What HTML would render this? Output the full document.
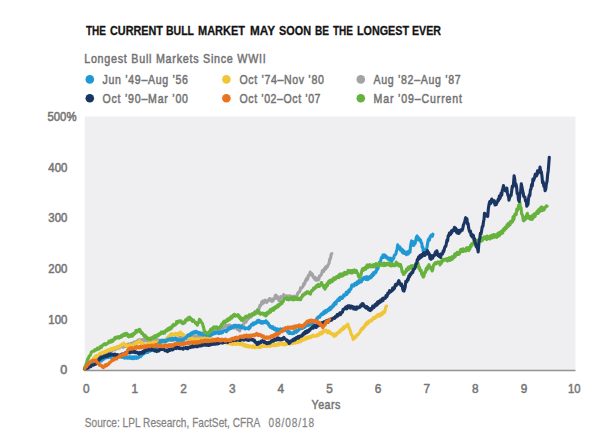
<!DOCTYPE html>
<html><head><meta charset="utf-8"><style>
html,body{margin:0;padding:0;background:#fff;}
svg{display:block;}
</style></head><body>
<svg width="600" height="443" viewBox="0 0 600 443">
<rect x="0" y="0" width="600" height="443" fill="#ffffff"/>
<rect x="84.8" y="116.5" width="490.7" height="254" fill="#efeef1"/>
<line x1="84.3" y1="370.5" x2="575.5" y2="370.5" stroke="#939393" stroke-width="1.6"/>
<path d="M84.8,368.7 L85.4,367.6 L86.0,366.6 L86.5,367.3 L87.1,365.4 L87.7,366.1 L88.3,365.0 L88.8,363.4 L89.4,363.9 L90.0,362.6 L90.6,363.2 L91.2,361.8 L91.8,362.5 L92.4,361.0 L92.9,361.8 L93.5,361.3 L94.1,359.6 L94.7,360.4 L95.3,359.4 L95.9,358.3 L96.5,358.6 L97.1,357.3 L97.6,357.8 L98.2,356.4 L98.8,356.0 L99.4,356.9 L100.0,355.7 L100.6,355.0 L101.2,354.7 L101.8,355.6 L102.4,354.2 L102.9,354.7 L103.5,353.9 L104.1,354.1 L104.7,353.2 L105.3,353.6 L105.9,352.0 L106.5,352.8 L107.1,351.7 L107.6,352.1 L108.2,352.4 L108.8,350.6 L109.4,351.1 L110.0,350.3 L110.6,350.2 L111.2,351.3 L111.8,350.0 L112.4,350.3 L112.9,349.0 L113.5,349.0 L114.1,349.9 L114.7,348.3 L115.3,349.6 L115.9,348.2 L116.5,347.3 L117.1,347.2 L117.6,347.1 L118.2,348.3 L118.8,347.4 L119.4,347.9 L120.0,346.6 L120.6,346.7 L121.2,346.1 L121.8,346.4 L122.4,347.0 L122.9,346.1 L123.5,347.1 L124.1,346.6 L124.7,345.0 L125.3,346.4 L125.9,346.3 L126.5,346.0 L127.1,344.4 L127.6,345.9 L128.2,345.5 L128.8,343.9 L129.4,344.4 L130.0,344.9 L130.6,345.2 L131.2,343.3 L131.8,343.2 L132.5,344.3 L133.1,343.2 L133.7,342.4 L134.3,343.9 L134.9,341.8 L135.5,342.1 L136.2,342.7 L136.8,341.3 L137.4,342.1 L138.0,340.2 L138.6,341.5 L139.2,339.8 L139.8,341.6 L140.4,339.8 L141.0,340.5 L141.6,339.9 L142.2,341.1 L142.8,339.6 L143.4,339.5 L144.0,340.8 L144.6,339.2 L145.2,340.8 L145.8,339.7 L146.4,339.5 L147.0,341.0 L147.6,340.8 L148.2,339.6 L148.8,341.0 L149.4,339.6 L150.0,341.3 L150.6,339.5 L151.2,340.1 L151.8,341.6 L152.4,341.1 L152.9,340.2 L153.5,341.2 L154.1,340.0 L154.7,339.8 L155.3,341.5 L155.9,340.4 L156.5,339.7 L157.1,341.7 L157.6,340.1 L158.2,339.9 L158.8,341.3 L159.4,340.3 L160.0,341.3 L160.6,340.9 L161.2,340.1 L161.8,341.2 L162.4,340.1 L163.0,341.8 L163.6,341.8 L164.2,340.4 L164.8,341.7 L165.4,340.3 L166.0,341.3 L166.6,340.6 L167.2,338.9 L167.8,340.4 L168.4,339.1 L169.0,339.8 L169.6,338.3 L170.2,340.3 L170.8,338.6 L171.4,340.5 L172.0,339.1 L172.6,340.7 L173.2,339.3 L173.8,339.8 L174.4,338.9 L175.0,339.4 L175.6,338.4 L176.2,338.3 L176.8,338.9 L177.4,338.2 L178.0,338.6 L178.6,339.0 L179.2,337.6 L179.7,337.8 L180.3,337.5 L180.9,338.9 L181.5,337.3 L182.1,338.9 L182.7,336.9 L183.3,337.0 L183.9,338.2 L184.5,337.3 L185.1,338.4 L185.7,337.2 L186.3,338.4 L186.9,338.3 L187.4,337.1 L188.0,338.0 L188.6,336.8 L189.2,338.5 L189.8,338.2 L190.4,336.5 L191.0,338.1 L191.6,337.1 L192.2,338.2 L192.8,337.0 L193.4,337.8 L194.0,336.6 L194.6,337.1 L195.3,336.2 L195.9,337.1 L196.5,336.9 L197.1,337.0 L197.7,335.5 L198.3,335.6 L198.9,335.2 L199.5,336.8 L200.1,336.6 L200.7,336.8 L201.3,335.1 L202.0,336.6 L202.6,336.5 L203.2,334.5 L203.8,336.2 L204.4,335.0 L205.0,335.7 L205.6,333.9 L206.2,335.4 L206.8,333.5 L207.4,334.2 L207.9,334.6 L208.5,332.8 L209.1,333.5 L209.7,333.4 L210.3,332.3 L210.9,332.2 L211.5,331.3 L212.1,332.8 L212.6,331.2 L213.2,330.9 L213.8,331.7 L214.4,330.6 L215.0,330.2 L215.6,330.6 L216.2,329.5 L216.8,330.5 L217.4,328.9 L217.9,329.7 L218.5,328.5 L219.1,328.2 L219.7,327.3 L220.3,328.7 L220.9,328.9 L221.5,327.1 L222.1,328.5 L222.6,326.4 L223.2,327.6 L223.8,327.1 L224.4,327.2 L225.0,327.2 L225.6,325.2 L226.1,326.5 L226.7,325.5 L227.2,326.7 L227.8,325.6 L228.4,327.1 L228.9,325.1 L229.5,325.5 L230.1,325.1 L230.7,325.6 L231.4,326.8 L232.0,327.1 L232.6,325.9 L233.2,326.9 L233.8,325.9 L234.4,328.1 L235.1,326.7 L235.7,327.8 L236.3,326.5 L236.9,327.0 L237.4,329.4 L238.0,329.5 L238.6,329.5 L239.1,330.3 L239.7,330.9 L240.3,329.0 L240.9,328.1 L241.5,328.0 L242.1,325.7 L242.6,325.2 L243.2,325.2 L243.8,323.2 L244.4,323.2 L245.0,320.8 L245.6,321.7 L246.2,321.9 L246.8,319.7 L247.3,319.8 L247.9,318.5 L248.5,318.7 L249.1,316.5 L249.7,316.5 L250.2,317.5 L250.8,315.7 L251.4,316.3 L252.0,315.7 L252.6,314.0 L253.3,313.9 L253.9,314.2 L254.5,312.4 L255.2,311.4 L255.8,311.6 L256.4,312.3 L257.1,311.4 L257.7,309.7 L258.3,310.1 L258.8,309.0 L259.4,307.4 L260.0,305.3 L260.5,305.7 L261.1,304.8 L261.7,302.2 L262.2,303.7 L262.8,301.2 L263.4,303.1 L263.9,300.8 L264.5,301.4 L265.1,300.2 L265.6,301.8 L266.1,300.8 L266.7,302.5 L267.3,300.8 L267.9,301.1 L268.4,300.4 L269.0,299.4 L269.6,298.5 L270.1,298.5 L270.6,300.3 L271.2,299.5 L271.8,301.5 L272.3,300.1 L272.9,300.9 L273.4,298.8 L274.0,299.1 L274.6,298.7 L275.1,296.1 L275.7,295.0 L276.3,295.8 L276.8,298.2 L277.4,296.4 L278.0,298.8 L278.5,298.3 L279.1,301.0 L279.7,298.1 L280.2,299.2 L280.8,296.6 L281.4,297.1 L281.9,297.1 L282.5,296.7 L283.1,296.3 L283.7,294.6 L284.2,296.0 L284.8,297.3 L285.4,295.9 L286.0,296.7 L286.6,295.8 L287.2,296.0 L287.7,296.0 L288.3,297.7 L288.9,297.3 L289.5,295.8 L290.1,298.1 L290.7,296.1 L291.3,296.6 L291.9,298.2 L292.5,297.4 L293.1,296.8 L293.7,296.7 L294.3,296.1 L294.9,298.1 L295.5,298.6 L296.1,296.6 L296.8,297.2 L297.4,294.1 L298.1,292.8 L298.7,292.1 L299.4,291.9 L300.0,291.0 L300.6,287.9 L301.2,288.5 L301.8,287.4 L302.4,287.2 L303.0,286.5 L303.6,283.8 L304.2,284.4 L304.8,283.3 L305.4,280.6 L306.0,281.0 L306.6,278.4 L307.2,279.7 L307.8,278.5 L308.4,275.4 L309.0,275.6 L309.6,274.7 L310.2,272.1 L310.8,273.4 L311.4,274.6 L311.9,273.7 L312.5,274.5 L313.0,277.0 L313.6,277.6 L314.2,276.8 L314.7,279.3 L315.3,277.5 L315.9,280.2 L316.5,278.5 L317.0,278.4 L317.6,279.4 L318.2,280.1 L318.8,279.2 L319.4,276.0 L319.9,276.2 L320.5,275.7 L321.1,274.5 L321.7,273.7 L322.4,270.6 L323.0,270.6 L323.7,271.3 L324.4,268.5 L325.0,269.5 L325.6,267.2 L326.2,268.4 L326.7,266.4 L327.3,267.1 L327.9,265.3 L328.5,264.3 L329.1,263.1 L329.8,259.0 L330.5,258.5 L331.1,254.6 L331.8,253.6" fill="none" stroke="#a3a3a5" stroke-width="3.1" stroke-linejoin="round" stroke-linecap="round"/>
<path d="M84.8,368.7 L85.4,367.6 L86.0,367.9 L86.5,366.4 L87.1,365.4 L87.7,365.7 L88.3,364.5 L88.8,364.5 L89.4,363.0 L90.0,363.0 L90.6,361.9 L91.2,360.7 L91.8,360.9 L92.4,359.6 L93.0,359.1 L93.7,357.9 L94.3,357.4 L94.9,358.4 L95.5,356.1 L96.1,356.1 L96.7,355.3 L97.3,356.3 L97.9,355.8 L98.4,355.5 L99.0,355.0 L99.6,353.5 L100.2,354.4 L100.8,353.2 L101.4,353.7 L102.0,352.3 L102.6,353.8 L103.2,352.0 L103.7,353.1 L104.3,351.8 L104.9,351.4 L105.5,352.6 L106.1,350.5 L106.7,351.7 L107.3,351.3 L107.8,351.3 L108.4,349.6 L109.0,350.5 L109.6,350.1 L110.2,350.1 L110.8,348.5 L111.3,349.9 L111.9,348.8 L112.5,349.1 L113.1,348.1 L113.7,349.3 L114.3,347.9 L114.9,348.3 L115.4,347.5 L116.0,348.3 L116.6,347.0 L117.2,347.8 L117.8,346.5 L118.4,347.7 L119.0,346.2 L119.6,346.8 L120.2,346.6 L120.7,345.1 L121.3,345.8 L121.9,344.1 L122.5,344.7 L123.1,344.4 L123.7,343.0 L124.3,344.8 L124.9,344.1 L125.5,345.7 L126.2,344.6 L126.8,345.3 L127.4,346.6 L128.0,345.6 L128.6,345.7 L129.2,346.3 L129.9,344.9 L130.5,344.9 L131.1,346.4 L131.7,346.0 L132.3,345.9 L132.9,344.9 L133.6,345.1 L134.2,343.8 L134.8,345.1 L135.4,344.3 L135.9,343.0 L136.5,342.5 L137.1,343.5 L137.6,342.9 L138.2,342.4 L138.7,341.5 L139.3,340.6 L139.9,341.5 L140.5,341.8 L141.2,343.7 L141.8,342.5 L142.4,344.8 L143.0,343.5 L143.7,345.8 L144.3,344.7 L144.9,346.4 L145.5,344.9 L146.2,346.2 L146.8,344.7 L147.4,345.5 L148.1,343.9 L148.7,344.1 L149.3,343.0 L150.0,344.3 L150.6,342.7 L151.2,344.2 L151.8,344.2 L152.4,342.4 L153.0,342.3 L153.6,343.5 L154.2,342.7 L154.8,342.0 L155.4,343.5 L156.0,342.1 L156.6,342.7 L157.2,342.7 L157.8,341.8 L158.4,342.8 L159.0,341.6 L159.6,342.9 L160.2,343.0 L160.8,343.0 L161.5,341.6 L162.1,342.8 L162.7,340.9 L163.3,341.9 L164.0,341.6 L164.6,341.4 L165.2,340.5 L165.8,339.3 L166.3,340.3 L166.9,338.2 L167.5,339.0 L168.1,336.9 L168.6,338.2 L169.2,336.2 L169.8,336.6 L170.3,334.6 L170.9,335.6 L171.5,333.7 L172.1,335.0 L172.7,333.8 L173.3,334.1 L173.9,334.1 L174.4,334.8 L175.0,335.1 L175.6,333.4 L176.2,335.1 L176.8,333.6 L177.4,333.6 L178.0,334.8 L178.7,333.0 L179.3,334.5 L179.9,332.6 L180.6,332.2 L181.2,334.0 L181.9,334.4 L182.5,334.0 L183.1,334.0 L183.7,335.9 L184.4,335.5 L185.0,336.8 L185.6,336.2 L186.2,335.8 L186.8,337.7 L187.4,336.3 L187.9,336.0 L188.5,336.4 L189.1,337.9 L189.7,337.1 L190.3,338.1 L190.9,337.3 L191.5,339.1 L192.1,338.3 L192.6,339.9 L193.2,338.6 L193.8,339.0 L194.4,340.6 L195.0,339.6 L195.6,339.0 L196.2,339.0 L196.8,338.9 L197.4,340.3 L198.0,338.9 L198.6,340.2 L199.2,340.4 L199.8,339.2 L200.4,340.1 L201.0,339.0 L201.6,340.4 L202.1,338.5 L202.7,338.6 L203.3,340.1 L203.9,338.3 L204.5,339.7 L205.1,339.4 L205.7,338.0 L206.3,339.5 L206.9,337.9 L207.5,338.0 L208.1,339.6 L208.7,337.8 L209.3,339.6 L209.9,337.9 L210.5,339.3 L211.1,338.7 L211.7,339.9 L212.3,338.8 L212.9,340.1 L213.5,339.1 L214.1,339.4 L214.6,341.1 L215.2,340.1 L215.8,341.5 L216.4,341.6 L217.0,340.3 L217.6,341.9 L218.2,340.1 L218.8,339.9 L219.4,341.2 L220.0,340.4 L220.6,340.2 L221.2,340.3 L221.8,341.3 L222.4,340.8 L223.0,342.1 L223.7,341.0 L224.3,342.2 L224.9,341.1 L225.5,342.5 L226.1,343.0 L226.7,341.4 L227.3,341.6 L227.9,343.5 L228.5,342.5 L229.1,343.9 L229.7,342.6 L230.3,343.5 L231.0,342.5 L231.6,343.7 L232.2,344.4 L232.8,342.8 L233.4,344.5 L234.0,342.7 L234.6,342.7 L235.2,344.2 L235.8,342.6 L236.4,344.3 L237.0,343.0 L237.6,343.8 L238.2,343.3 L238.8,343.9 L239.3,343.1 L239.9,344.6 L240.5,343.0 L241.1,344.6 L241.7,343.3 L242.3,345.0 L242.9,344.9 L243.5,344.2 L244.1,345.9 L244.7,344.5 L245.4,346.6 L246.0,345.1 L246.6,345.6 L247.2,345.3 L247.8,347.0 L248.4,345.6 L249.1,347.1 L249.7,345.8 L250.3,347.0 L250.9,346.8 L251.5,347.0 L252.1,346.1 L252.7,347.6 L253.3,345.9 L253.9,347.2 L254.5,346.2 L255.1,347.7 L255.7,346.3 L256.3,346.2 L256.8,347.1 L257.4,346.3 L258.0,346.0 L258.6,347.5 L259.1,347.4 L259.7,346.0 L260.3,347.4 L260.9,346.4 L261.4,347.1 L262.0,346.6 L262.6,345.9 L263.2,345.1 L263.8,346.3 L264.5,346.4 L265.1,345.1 L265.7,346.1 L266.3,345.0 L266.9,346.5 L267.5,345.0 L268.2,345.9 L268.8,346.3 L269.4,346.1 L270.0,344.9 L270.6,346.2 L271.2,345.7 L271.8,344.8 L272.4,345.3 L272.9,344.6 L273.5,345.6 L274.1,343.8 L274.7,345.7 L275.3,344.6 L275.9,344.4 L276.5,344.4 L277.1,345.4 L277.6,345.3 L278.2,344.5 L278.8,343.3 L279.4,344.9 L280.0,342.8 L280.6,343.4 L281.2,344.3 L281.8,343.9 L282.4,343.0 L282.9,344.7 L283.5,343.7 L284.1,344.7 L284.7,343.4 L285.3,344.8 L285.9,343.2 L286.5,344.3 L287.1,342.8 L287.6,342.6 L288.2,343.8 L288.8,342.2 L289.4,342.4 L290.0,343.9 L290.6,344.0 L291.2,342.5 L291.8,343.7 L292.4,341.9 L293.0,343.5 L293.6,342.9 L294.2,342.0 L294.8,343.0 L295.5,343.1 L296.1,341.2 L296.7,341.1 L297.3,342.3 L297.9,342.6 L298.5,340.6 L299.1,341.6 L299.7,340.3 L300.3,341.8 L300.9,341.2 L301.5,339.7 L302.1,340.5 L302.7,339.0 L303.3,338.9 L304.0,340.0 L304.6,339.2 L305.2,337.6 L305.8,337.7 L306.4,338.8 L307.0,337.5 L307.6,338.5 L308.2,336.8 L308.9,338.0 L309.5,336.9 L310.1,336.5 L310.7,337.6 L311.3,337.0 L311.9,336.0 L312.6,336.6 L313.2,335.1 L313.8,335.4 L314.4,336.3 L315.0,336.2 L315.7,336.3 L316.3,336.3 L316.9,334.8 L317.5,335.2 L318.1,334.3 L318.7,335.3 L319.4,333.1 L320.0,333.6 L320.6,334.2 L321.2,332.3 L321.7,333.7 L322.3,331.6 L322.9,332.9 L323.4,331.7 L324.0,330.6 L324.5,331.6 L325.1,330.6 L325.7,330.2 L326.2,331.1 L326.8,330.7 L327.4,332.8 L327.9,331.5 L328.5,331.0 L329.0,332.7 L329.6,331.6 L330.2,333.4 L330.7,332.9 L331.3,333.9 L331.9,333.6 L332.4,334.5 L333.0,335.1 L333.5,334.0 L334.1,336.3 L334.7,336.0 L335.3,334.1 L335.9,335.4 L336.5,334.9 L337.1,333.2 L337.6,332.6 L338.2,333.1 L338.8,331.9 L339.4,331.0 L340.0,332.2 L340.6,329.9 L341.2,330.3 L341.8,329.9 L342.4,328.3 L343.0,329.5 L343.6,326.9 L344.2,328.6 L344.8,326.7 L345.4,327.1 L346.0,325.7 L346.6,326.7 L347.2,326.1 L347.8,324.0 L348.4,326.0 L349.0,327.5 L349.6,329.3 L350.2,330.5 L350.8,332.8 L351.4,334.9 L352.0,335.2 L352.6,336.9 L353.2,339.4 L353.8,337.7 L354.4,337.7 L354.9,337.9 L355.5,336.4 L356.1,336.9 L356.7,335.2 L357.3,334.6 L357.9,334.8 L358.4,334.3 L359.0,333.1 L359.6,332.6 L360.2,332.1 L360.8,330.0 L361.4,329.0 L362.0,328.5 L362.6,329.3 L363.2,327.3 L363.8,327.8 L364.4,325.7 L365.0,326.4 L365.6,324.0 L366.2,323.1 L366.8,324.3 L367.4,322.0 L368.0,323.6 L368.6,322.7 L369.2,320.8 L369.8,321.4 L370.4,321.2 L371.0,320.0 L371.6,320.9 L372.2,319.1 L372.8,319.4 L373.4,317.6 L374.0,318.7 L374.6,317.9 L375.2,318.1 L375.8,316.4 L376.4,317.2 L377.0,315.7 L377.6,316.2 L378.2,314.4 L378.8,316.1 L379.4,315.4 L380.0,315.9 L380.6,313.8 L381.2,313.4 L381.8,314.8 L382.4,313.7 L383.0,311.9 L383.6,313.2 L384.2,312.6 L384.8,312.0 L385.4,308.5 L386.0,306.5 L386.6,306.2" fill="none" stroke="#f1c538" stroke-width="3.1" stroke-linejoin="round" stroke-linecap="round"/>
<path d="M84.8,368.7 L85.4,367.6 L86.0,367.4 L86.5,366.8 L87.1,366.6 L87.7,366.0 L88.3,365.9 L88.8,365.6 L89.4,364.8 L90.0,365.8 L90.6,364.2 L91.2,363.6 L91.9,364.4 L92.5,363.1 L93.1,362.9 L93.8,363.3 L94.4,362.0 L95.0,361.2 L95.6,362.3 L96.2,361.2 L96.8,362.0 L97.4,361.0 L98.0,360.8 L98.6,360.3 L99.2,360.6 L99.8,361.5 L100.4,360.4 L101.0,361.0 L101.6,360.9 L102.2,358.9 L102.8,359.8 L103.4,358.4 L104.0,359.0 L104.6,357.1 L105.2,358.1 L105.8,356.7 L106.4,357.7 L107.0,356.3 L107.6,356.5 L108.3,357.6 L108.9,357.4 L109.5,356.1 L110.1,357.2 L110.7,357.4 L111.3,356.3 L111.9,355.8 L112.5,355.5 L113.2,355.8 L113.8,356.5 L114.4,355.4 L115.0,356.0 L115.6,355.1 L116.2,356.6 L116.8,355.5 L117.4,356.5 L117.9,355.2 L118.5,356.3 L119.1,356.6 L119.7,355.8 L120.3,356.7 L120.9,355.6 L121.5,357.3 L122.1,356.1 L122.6,357.1 L123.2,357.2 L123.8,356.9 L124.4,358.1 L125.0,356.7 L125.6,357.6 L126.2,357.9 L126.8,357.9 L127.3,357.1 L127.9,358.2 L128.5,357.0 L129.1,357.9 L129.7,356.7 L130.3,358.4 L130.9,357.0 L131.4,357.8 L132.0,358.5 L132.6,356.9 L133.2,357.3 L133.8,358.6 L134.4,356.8 L135.0,358.1 L135.6,358.0 L136.1,356.8 L136.7,358.3 L137.3,357.3 L137.9,358.0 L138.5,357.6 L139.1,356.6 L139.7,356.8 L140.3,355.7 L140.9,356.3 L141.4,354.7 L142.0,355.0 L142.6,354.0 L143.2,354.2 L143.8,352.6 L144.4,353.2 L145.0,352.7 L145.6,351.4 L146.2,351.8 L146.8,352.6 L147.4,350.8 L147.9,352.4 L148.5,351.0 L149.1,351.4 L149.7,351.2 L150.3,351.1 L150.9,349.8 L151.5,350.2 L152.1,349.8 L152.6,348.6 L153.2,349.9 L153.8,348.3 L154.4,349.4 L155.0,348.6 L155.6,348.9 L156.2,346.6 L156.9,347.2 L157.5,345.0 L158.1,344.9 L158.8,343.3 L159.4,343.5 L160.0,341.3 L160.6,340.8 L161.2,340.6 L161.8,341.8 L162.4,340.6 L162.9,341.7 L163.5,340.4 L164.1,341.5 L164.7,341.5 L165.3,340.5 L165.9,341.6 L166.5,341.2 L167.1,339.9 L167.6,340.3 L168.2,339.2 L168.8,340.0 L169.4,339.1 L170.0,338.6 L170.6,338.8 L171.3,339.9 L171.9,338.9 L172.6,338.2 L173.2,339.2 L173.8,339.6 L174.5,338.5 L175.1,339.7 L175.7,338.2 L176.4,339.2 L177.0,340.3 L177.6,340.9 L178.3,339.9 L178.9,339.8 L179.6,339.7 L180.2,339.8 L180.8,341.1 L181.3,339.5 L181.9,340.7 L182.5,340.2 L183.1,339.9 L183.6,340.3 L184.2,338.6 L184.8,337.9 L185.4,338.5 L186.0,337.1 L186.5,337.4 L187.1,336.2 L187.7,335.2 L188.3,335.9 L188.9,334.6 L189.4,334.4 L190.0,335.6 L190.6,333.6 L191.2,334.9 L191.7,332.8 L192.3,334.1 L192.9,332.4 L193.5,331.9 L194.1,333.1 L194.6,332.1 L195.2,332.8 L195.8,331.3 L196.4,332.3 L197.0,331.8 L197.6,333.0 L198.2,332.7 L198.8,332.3 L199.4,334.3 L200.0,334.2 L200.6,332.9 L201.3,334.1 L201.9,333.7 L202.5,333.3 L203.1,335.1 L203.6,333.7 L204.2,334.5 L204.8,333.2 L205.4,333.7 L205.9,335.0 L206.5,335.3 L207.1,333.6 L207.7,333.8 L208.2,335.2 L208.8,335.5 L209.4,334.3 L210.0,335.9 L210.6,334.4 L211.2,335.2 L211.7,334.9 L212.3,334.8 L212.9,332.9 L213.4,333.9 L214.0,333.0 L214.6,333.6 L215.2,332.1 L215.8,333.3 L216.3,332.6 L216.9,332.6 L217.5,331.9 L218.1,332.2 L218.7,333.6 L219.3,332.2 L219.9,333.3 L220.5,331.7 L221.1,332.2 L221.7,333.0 L222.2,331.7 L222.8,332.3 L223.4,331.2 L224.0,330.6 L224.6,330.4 L225.2,330.5 L225.8,330.9 L226.4,331.7 L227.0,329.7 L227.6,329.3 L228.2,330.0 L228.8,327.9 L229.4,329.0 L230.0,327.5 L230.6,328.7 L231.2,326.9 L231.8,328.1 L232.4,326.5 L233.0,327.2 L233.6,327.3 L234.2,325.3 L234.8,326.3 L235.4,325.3 L236.0,326.6 L236.6,325.3 L237.2,326.9 L237.8,325.9 L238.4,326.6 L239.0,325.3 L239.6,327.3 L240.2,326.8 L240.8,327.5 L241.4,325.8 L242.0,327.4 L242.7,328.0 L243.3,327.9 L243.9,328.1 L244.5,327.5 L245.1,329.0 L245.7,328.0 L246.4,328.2 L247.0,328.2 L247.6,328.5 L248.2,327.7 L248.8,329.0 L249.4,326.6 L250.0,327.9 L250.6,325.8 L251.2,324.7 L251.8,325.0 L252.4,325.0 L253.0,323.1 L253.6,324.8 L254.2,322.9 L254.8,323.7 L255.4,323.5 L256.0,322.1 L256.6,323.0 L257.2,320.8 L257.8,322.1 L258.4,320.4 L259.0,320.3 L259.6,322.3 L260.2,321.8 L260.7,321.4 L261.3,323.2 L261.9,322.6 L262.5,321.6 L263.1,323.1 L263.6,322.0 L264.2,321.7 L264.8,321.4 L265.4,322.6 L265.9,320.8 L266.5,322.1 L267.1,321.9 L267.7,323.9 L268.3,323.2 L268.8,325.2 L269.4,325.0 L270.0,327.1 L270.6,326.4 L271.2,327.6 L271.8,326.7 L272.4,328.4 L272.9,326.8 L273.5,327.9 L274.1,329.3 L274.7,329.6 L275.3,328.1 L275.8,329.7 L276.4,330.5 L277.0,330.5 L277.6,328.9 L278.1,329.3 L278.7,330.7 L279.3,329.5 L279.9,330.6 L280.5,328.9 L281.1,330.5 L281.7,329.5 L282.3,330.3 L282.9,328.9 L283.5,330.5 L284.1,329.4 L284.7,330.5 L285.3,330.0 L285.9,330.1 L286.5,330.6 L287.1,330.7 L287.7,332.2 L288.3,331.0 L288.9,333.3 L289.5,331.6 L290.2,333.5 L290.9,333.5 L291.5,333.0 L292.2,333.9 L292.8,333.4 L293.4,332.3 L294.0,333.4 L294.5,331.8 L295.1,330.8 L295.7,331.9 L296.3,332.3 L296.9,330.6 L297.5,331.1 L298.1,330.7 L298.8,329.8 L299.4,328.0 L300.0,329.0 L300.6,327.6 L301.2,328.6 L301.9,327.0 L302.5,328.3 L303.1,326.8 L303.7,327.3 L304.3,327.5 L304.9,326.7 L305.5,325.3 L306.1,326.2 L306.7,325.2 L307.3,325.0 L307.9,324.4 L308.6,325.5 L309.2,323.5 L309.8,324.6 L310.4,324.2 L311.0,324.3 L311.6,323.6 L312.2,323.9 L312.8,321.9 L313.4,323.1 L314.0,321.2 L314.5,321.8 L315.1,320.9 L315.7,320.2 L316.3,319.5 L316.9,318.3 L317.4,318.8 L318.0,317.1 L318.6,316.5 L319.2,317.0 L319.8,317.2 L320.4,315.3 L321.0,314.6 L321.6,313.8 L322.2,314.7 L322.9,314.3 L323.5,312.0 L324.1,313.6 L324.7,311.2 L325.3,312.9 L325.9,310.5 L326.5,312.1 L327.1,311.4 L327.7,309.6 L328.3,310.5 L328.8,309.0 L329.4,308.1 L330.0,309.9 L330.6,307.1 L331.2,308.5 L331.8,307.2 L332.4,307.1 L333.0,304.8 L333.6,306.1 L334.2,303.3 L334.8,304.5 L335.4,302.0 L336.0,303.9 L336.6,301.0 L337.2,301.0 L337.8,299.5 L338.4,300.5 L339.0,298.3 L339.6,300.3 L340.2,297.3 L340.8,298.2 L341.4,297.0 L342.0,298.4 L342.6,298.0 L343.2,296.7 L343.8,294.8 L344.4,296.0 L345.0,294.5 L345.6,294.8 L346.2,292.4 L346.8,294.5 L347.4,291.7 L348.0,292.8 L348.7,290.3 L349.3,291.7 L349.9,289.2 L350.5,289.5 L351.1,288.4 L351.7,285.3 L352.3,284.9 L352.9,286.1 L353.5,284.9 L354.1,285.9 L354.7,283.7 L355.3,284.7 L355.9,283.0 L356.5,284.7 L357.1,281.9 L357.7,281.8 L358.3,283.3 L358.9,280.6 L359.5,282.5 L360.1,280.8 L360.7,280.6 L361.3,281.9 L361.9,278.9 L362.5,280.1 L363.1,278.7 L363.7,277.5 L364.3,278.0 L364.9,278.8 L365.5,277.0 L366.1,279.5 L366.7,276.7 L367.3,277.0 L367.9,279.6 L368.5,277.0 L369.1,277.1 L369.7,276.6 L370.3,278.1 L370.9,275.9 L371.5,277.2 L372.1,274.2 L372.7,275.9 L373.3,272.7 L373.9,274.5 L374.5,272.6 L375.1,271.7 L375.7,272.6 L376.3,271.2 L376.9,268.1 L377.5,269.3 L378.1,268.2 L378.7,265.6 L379.3,262.4 L379.9,261.9 L380.5,261.6 L381.1,258.8 L381.7,257.3 L382.3,257.6 L382.9,255.1 L383.5,257.5 L384.1,254.7 L384.7,255.3 L385.3,257.1 L386.0,256.0 L386.6,258.0 L387.3,257.2 L387.9,259.1 L388.5,258.0 L389.0,258.4 L389.6,260.0 L390.1,260.0 L390.7,258.2 L391.2,260.8 L391.8,261.3 L392.4,258.8 L393.1,259.2 L393.7,258.2 L394.4,255.2 L395.0,254.8 L395.7,254.3 L396.4,251.3 L397.0,249.7 L397.7,244.9 L398.3,247.2 L398.8,248.3 L399.4,246.8 L399.9,247.0 L400.5,250.3 L401.1,248.6 L401.6,249.1 L402.2,252.2 L402.8,250.1 L403.4,253.3 L404.0,251.0 L404.6,253.4 L405.2,252.6 L405.8,253.0 L406.4,254.7 L407.0,252.1 L407.6,253.7 L408.2,254.0 L408.8,251.1 L409.4,250.6 L410.0,252.3 L410.5,246.6 L411.1,243.1 L411.6,240.9 L412.2,243.6 L412.8,241.6 L413.4,245.4 L414.0,245.2 L414.6,242.9 L415.2,243.2 L415.9,239.5 L416.5,236.9 L417.1,236.0 L417.7,238.0 L418.2,237.3 L418.8,240.1 L419.4,238.8 L420.0,239.8 L420.5,240.0 L421.1,242.6 L421.7,243.0 L422.2,247.2 L422.8,247.0 L423.4,252.2 L424.0,252.4 L424.6,249.8 L425.2,253.3 L425.8,250.9 L426.4,249.7 L427.0,247.1 L427.6,243.4 L428.2,240.2 L428.8,238.8 L429.4,240.2 L430.0,237.0 L430.6,236.0 L431.2,235.2 L431.8,235.7 L432.3,236.3 L432.9,234.2" fill="none" stroke="#1f98d4" stroke-width="3.1" stroke-linejoin="round" stroke-linecap="round"/>
<path d="M84.3,369.3 L84.9,367.0 L85.5,366.5 L86.1,363.7 L86.7,362.8 L87.3,360.2 L87.9,358.6 L88.5,358.2 L89.1,356.1 L89.7,355.6 L90.2,355.4 L90.8,354.0 L91.4,352.0 L92.0,351.8 L92.6,351.3 L93.2,351.2 L93.8,350.6 L94.3,351.0 L94.9,349.7 L95.5,350.4 L96.1,349.4 L96.7,349.8 L97.3,348.2 L97.9,348.0 L98.4,349.1 L99.0,349.0 L99.6,348.5 L100.2,346.8 L100.8,346.3 L101.4,347.5 L102.0,346.0 L102.6,345.2 L103.2,345.3 L103.7,344.2 L104.3,344.0 L104.9,343.6 L105.5,344.7 L106.1,344.6 L106.7,343.8 L107.3,343.6 L107.8,342.9 L108.4,343.1 L109.0,341.1 L109.6,342.1 L110.2,341.1 L110.8,342.2 L111.4,340.2 L112.0,341.6 L112.6,341.2 L113.1,340.9 L113.7,339.2 L114.3,339.9 L114.9,337.8 L115.5,337.3 L116.1,338.4 L116.6,337.3 L117.2,336.9 L117.8,338.0 L118.4,336.9 L119.0,338.1 L119.5,336.7 L120.1,337.5 L120.7,337.4 L121.3,335.5 L121.9,336.9 L122.5,334.8 L123.1,335.9 L123.7,335.6 L124.2,333.8 L124.8,335.5 L125.4,333.6 L126.0,333.4 L126.6,333.4 L127.3,334.6 L128.0,336.3 L128.6,334.9 L129.1,336.8 L129.7,335.3 L130.2,336.4 L130.8,336.3 L131.4,334.6 L131.9,334.7 L132.5,336.1 L133.1,333.7 L133.6,334.9 L134.2,333.0 L134.8,333.7 L135.3,333.0 L135.9,330.6 L136.5,332.3 L137.0,330.3 L137.6,331.5 L138.2,331.2 L138.7,330.3 L139.3,329.4 L139.9,329.5 L140.4,332.0 L141.0,331.7 L141.6,333.5 L142.1,332.8 L142.7,333.5 L143.3,335.0 L143.8,335.7 L144.4,336.3 L145.0,335.1 L145.5,336.1 L146.1,337.9 L146.7,337.0 L147.2,337.6 L147.8,339.1 L148.3,339.0 L148.9,339.1 L149.5,338.5 L150.0,339.3 L150.6,339.8 L151.2,337.9 L151.7,337.6 L152.3,338.2 L152.8,337.0 L153.4,337.8 L154.0,337.5 L154.5,335.9 L155.1,337.6 L155.7,335.6 L156.2,336.6 L156.8,336.5 L157.3,334.7 L157.9,334.7 L158.5,335.7 L159.0,333.8 L159.6,334.3 L160.2,333.7 L160.7,334.0 L161.3,332.0 L161.8,333.3 L162.4,332.1 L163.0,331.8 L163.5,333.4 L164.1,331.8 L164.7,333.0 L165.2,330.7 L165.8,330.6 L166.3,329.9 L166.9,331.0 L167.5,330.5 L168.0,328.6 L168.6,329.8 L169.3,327.9 L170.0,329.3 L170.6,327.6 L171.2,328.6 L171.8,326.3 L172.3,327.2 L172.9,324.9 L173.5,324.4 L174.1,325.7 L174.7,325.0 L175.3,324.8 L176.0,324.1 L176.6,321.5 L177.2,323.0 L177.8,322.5 L178.5,321.0 L179.1,321.9 L179.7,320.8 L180.3,321.9 L180.9,320.8 L181.4,321.8 L182.0,323.0 L182.6,323.6 L183.2,322.6 L183.8,323.3 L184.4,321.6 L185.0,322.6 L185.6,319.8 L186.2,320.6 L186.8,319.2 L187.4,320.1 L188.0,317.9 L188.5,319.7 L189.1,319.2 L189.7,317.2 L190.3,318.7 L190.9,318.4 L191.5,320.3 L192.1,319.4 L192.6,321.4 L193.2,320.0 L193.8,320.5 L194.4,321.5 L195.0,322.2 L195.6,323.4 L196.2,322.6 L196.8,323.5 L197.4,325.2 L198.1,322.7 L198.7,322.6 L199.4,319.3 L200.0,321.4 L200.6,320.5 L201.3,322.4 L201.9,322.9 L202.5,323.6 L203.2,326.5 L203.8,328.2 L204.5,332.7 L205.1,332.8 L205.7,331.8 L206.4,333.5 L207.0,333.5 L207.6,333.0 L208.2,333.7 L208.8,332.8 L209.4,331.3 L210.0,332.0 L210.6,329.4 L211.2,329.0 L211.8,330.4 L212.4,328.6 L212.9,328.9 L213.5,327.0 L214.1,327.8 L214.7,327.2 L215.3,326.9 L215.8,327.0 L216.4,327.7 L217.0,326.9 L217.6,328.3 L218.1,327.8 L218.7,327.5 L219.3,328.2 L219.9,328.0 L220.5,326.1 L221.0,326.8 L221.6,324.1 L222.2,324.5 L222.8,323.7 L223.4,321.9 L223.9,322.7 L224.4,321.1 L225.0,322.7 L225.6,321.1 L226.1,320.8 L226.7,321.3 L227.2,319.4 L227.8,320.8 L228.4,318.8 L228.9,320.1 L229.5,318.1 L230.1,319.3 L230.7,317.1 L231.4,316.3 L232.0,318.0 L232.6,316.3 L233.2,315.2 L233.9,316.1 L234.5,314.3 L235.1,316.0 L235.7,316.1 L236.2,315.9 L236.8,315.2 L237.4,315.2 L237.9,314.7 L238.5,316.8 L239.1,315.7 L239.6,318.1 L240.2,318.9 L240.8,317.4 L241.3,320.2 L241.9,319.1 L242.5,320.5 L243.1,318.7 L243.8,319.1 L244.4,317.9 L245.0,317.5 L245.6,316.4 L246.3,317.4 L246.9,316.2 L247.5,316.7 L248.1,316.9 L248.8,315.6 L249.4,314.7 L250.0,315.3 L250.7,316.0 L251.3,315.7 L251.9,313.9 L252.6,314.7 L253.2,315.0 L253.8,313.3 L254.3,314.4 L254.9,312.3 L255.4,313.9 L256.0,313.3 L256.6,312.9 L257.1,311.8 L257.7,310.0 L258.3,312.8 L258.8,311.0 L259.4,313.7 L259.9,312.7 L260.5,314.3 L261.1,313.2 L261.6,313.2 L262.2,313.3 L262.8,313.1 L263.3,313.8 L263.9,315.0 L264.5,313.9 L265.0,313.5 L265.6,316.0 L266.2,315.6 L266.7,314.8 L267.3,312.4 L267.9,313.9 L268.4,311.8 L269.0,311.7 L269.5,312.6 L270.1,309.9 L270.7,312.0 L271.2,309.3 L271.8,310.7 L272.4,308.6 L272.9,309.9 L273.5,310.2 L274.0,307.6 L274.6,308.9 L275.2,308.6 L275.7,306.7 L276.3,307.8 L276.9,306.0 L277.4,305.3 L278.0,306.9 L278.5,304.7 L279.1,305.7 L279.7,304.5 L280.3,304.7 L280.9,302.8 L281.5,301.9 L282.1,303.3 L282.6,301.1 L283.2,301.6 L283.8,299.4 L284.4,299.1 L285.0,298.3 L285.6,298.6 L286.1,298.4 L286.7,297.7 L287.2,299.5 L287.8,298.4 L288.4,298.4 L288.9,299.8 L289.5,298.4 L290.1,299.2 L290.7,299.4 L291.3,297.7 L291.9,298.8 L292.5,297.2 L293.1,299.8 L293.7,297.4 L294.3,299.7 L294.9,297.9 L295.5,299.1 L296.1,297.5 L296.8,299.5 L297.4,299.4 L298.1,298.4 L298.7,299.7 L299.4,298.3 L300.0,298.8 L300.6,299.7 L301.3,297.4 L301.9,297.3 L302.5,295.0 L303.1,295.7 L303.8,294.0 L304.4,294.6 L305.0,293.0 L305.6,293.9 L306.3,293.6 L306.9,291.7 L307.5,291.8 L308.1,291.9 L308.7,293.1 L309.3,292.6 L309.9,294.0 L310.5,294.1 L311.1,291.9 L311.7,290.6 L312.3,290.0 L312.9,290.4 L313.6,288.0 L314.2,288.9 L314.8,288.7 L315.4,286.9 L316.0,287.5 L316.6,285.5 L317.2,285.1 L317.8,286.7 L318.4,284.4 L319.0,286.5 L319.6,286.2 L320.2,285.4 L320.8,284.7 L321.4,282.5 L322.0,283.8 L322.6,285.3 L323.2,285.2 L323.8,287.5 L324.4,285.7 L325.0,289.3 L325.6,285.8 L326.2,287.0 L326.8,283.7 L327.4,285.7 L328.0,282.6 L328.6,281.5 L329.2,280.9 L329.8,282.9 L330.4,280.3 L331.0,282.0 L331.6,279.8 L332.2,281.6 L332.8,278.8 L333.4,280.4 L334.0,277.9 L334.7,279.6 L335.4,277.5 L336.0,278.8 L336.6,276.7 L337.2,276.9 L337.8,277.4 L338.4,275.6 L339.0,277.6 L339.6,274.3 L340.2,274.6 L340.8,274.0 L341.4,276.2 L342.0,274.1 L342.6,275.0 L343.2,275.5 L343.8,272.9 L344.5,272.4 L345.1,274.4 L345.7,272.5 L346.3,273.9 L346.9,274.0 L347.5,272.8 L348.1,270.4 L348.7,272.4 L349.3,271.1 L349.9,272.6 L350.5,270.5 L351.1,273.0 L351.7,270.8 L352.3,273.0 L352.9,270.3 L353.5,272.1 L354.1,270.6 L354.7,270.0 L355.3,272.5 L355.9,272.5 L356.5,270.7 L357.1,272.3 L357.8,273.3 L358.5,276.5 L359.1,275.7 L359.8,278.1 L360.5,275.3 L361.1,274.7 L361.8,270.8 L362.5,268.8 L363.1,270.6 L363.7,268.3 L364.3,268.8 L364.9,267.5 L365.5,269.3 L366.1,268.7 L366.7,265.7 L367.3,264.9 L367.9,267.5 L368.5,265.3 L369.1,265.0 L369.7,264.7 L370.3,266.8 L370.9,265.3 L371.5,265.7 L372.1,266.8 L372.7,265.1 L373.3,266.7 L373.9,264.5 L374.4,265.2 L375.0,266.8 L375.6,265.5 L376.1,263.7 L376.7,265.5 L377.2,264.0 L377.8,265.2 L378.4,264.2 L378.9,265.9 L379.5,263.1 L380.1,263.7 L380.6,264.9 L381.2,265.3 L381.7,263.5 L382.3,264.8 L382.9,264.7 L383.5,265.5 L384.1,263.1 L384.7,265.5 L385.4,265.5 L386.0,263.6 L386.6,265.0 L387.2,263.3 L387.8,264.3 L388.4,263.3 L389.0,265.0 L389.6,262.9 L390.2,265.7 L390.8,263.8 L391.4,265.9 L392.0,263.3 L392.6,265.7 L393.2,264.3 L393.8,265.3 L394.4,265.8 L395.0,265.7 L395.6,264.5 L396.2,262.1 L396.8,264.6 L397.4,263.3 L398.0,264.6 L398.6,265.9 L399.2,264.1 L399.8,266.1 L400.4,264.5 L401.0,266.2 L401.6,268.7 L402.2,272.0 L402.8,271.9 L403.4,274.5 L404.0,274.3 L404.6,272.2 L405.2,272.7 L405.8,271.8 L406.4,269.4 L407.0,270.8 L407.6,268.9 L408.2,267.4 L408.8,269.3 L409.4,266.9 L410.0,268.3 L410.6,267.7 L411.1,265.8 L411.7,268.1 L412.3,265.7 L412.9,266.1 L413.4,267.2 L414.0,265.9 L414.6,265.6 L415.2,266.8 L415.9,263.9 L416.5,264.5 L417.1,263.3 L417.7,262.7 L418.2,263.8 L418.8,268.2 L419.4,267.1 L420.0,270.4 L420.5,270.9 L421.1,270.2 L421.7,274.3 L422.2,273.5 L422.8,276.3 L423.4,277.1 L424.0,275.8 L424.7,272.2 L425.3,272.6 L426.0,269.2 L426.6,268.0 L427.2,269.7 L427.8,266.2 L428.4,266.2 L429.0,264.6 L429.6,267.6 L430.2,266.7 L430.9,268.8 L431.5,267.6 L432.1,271.0 L432.7,269.8 L433.4,265.7 L434.0,264.3 L434.7,263.3 L435.3,262.7 L435.9,264.0 L436.5,263.6 L437.1,262.4 L437.6,262.5 L438.2,261.9 L438.8,262.9 L439.4,262.2 L440.0,264.9 L440.6,261.7 L441.3,263.4 L441.9,260.3 L442.6,259.5 L443.2,261.1 L443.8,259.4 L444.4,259.9 L445.1,260.1 L445.7,259.0 L446.3,258.8 L446.9,260.3 L447.5,261.1 L448.1,258.2 L448.8,258.2 L449.4,257.6 L450.0,260.4 L450.6,258.0 L451.2,259.7 L451.8,256.9 L452.4,259.2 L453.0,256.5 L453.5,257.6 L454.1,257.6 L454.7,254.1 L455.3,256.5 L455.9,253.5 L456.5,254.9 L457.1,252.4 L457.7,252.7 L458.3,254.5 L458.9,253.3 L459.4,254.0 L460.0,250.9 L460.6,249.7 L461.2,251.8 L461.8,249.3 L462.4,251.5 L463.0,248.7 L463.5,251.5 L464.1,250.6 L464.7,250.0 L465.3,250.5 L465.8,251.0 L466.4,247.7 L467.0,249.8 L467.6,247.7 L468.1,247.7 L468.7,250.8 L469.3,247.6 L469.9,249.0 L470.5,245.4 L471.1,246.6 L471.7,243.9 L472.3,244.8 L473.0,243.0 L473.6,242.1 L474.2,244.0 L474.8,242.3 L475.4,244.3 L476.0,241.0 L476.6,240.4 L477.2,240.2 L477.8,243.1 L478.4,241.7 L479.0,242.0 L479.6,240.3 L480.2,239.1 L480.9,241.2 L481.5,237.8 L482.1,240.8 L482.7,238.1 L483.3,239.4 L483.9,237.1 L484.5,238.4 L485.1,237.0 L485.7,238.9 L486.3,236.6 L486.9,239.6 L487.5,236.0 L488.1,238.5 L488.8,237.0 L489.4,237.9 L490.0,239.0 L490.6,235.9 L491.2,237.5 L491.8,235.4 L492.4,237.9 L493.0,235.7 L493.6,234.5 L494.2,237.3 L494.8,236.9 L495.4,234.9 L496.0,237.1 L496.7,237.4 L497.3,234.3 L497.9,233.4 L498.5,236.2 L499.1,232.7 L499.7,235.3 L500.3,233.4 L500.9,231.7 L501.5,233.6 L502.1,230.8 L502.7,233.1 L503.3,229.4 L503.9,228.6 L504.6,230.2 L505.2,227.3 L505.8,227.1 L506.4,228.3 L507.0,224.7 L507.6,226.7 L508.2,223.5 L508.8,225.9 L509.4,222.9 L510.1,224.6 L510.7,221.3 L511.3,222.2 L511.9,222.2 L512.5,221.7 L513.1,216.8 L513.8,219.7 L514.4,216.1 L515.0,214.0 L515.6,214.9 L516.2,214.5 L516.8,209.1 L517.5,210.3 L518.1,207.8 L518.7,205.2 L519.3,206.0 L519.9,202.2 L520.5,208.8 L521.0,207.4 L521.6,213.6 L522.2,214.6 L522.7,216.3 L523.3,220.6 L523.9,220.8 L524.5,217.5 L525.1,219.6 L525.6,216.9 L526.2,218.3 L526.8,214.5 L527.4,213.4 L528.0,216.8 L528.5,218.3 L529.1,218.2 L529.7,216.5 L530.3,219.2 L530.8,216.3 L531.4,217.2 L532.0,219.4 L532.6,215.5 L533.2,218.3 L533.8,214.2 L534.5,213.8 L535.1,216.4 L535.7,214.1 L536.3,212.8 L536.9,211.7 L537.5,210.9 L538.1,213.5 L538.7,209.5 L539.3,212.1 L539.9,208.4 L540.5,208.2 L541.1,207.2 L541.7,210.7 L542.2,207.1 L542.8,210.4 L543.4,209.9 L544.0,210.0 L544.6,208.5 L545.2,207.3 L545.8,207.1 L546.4,205.8 L547.0,206.3" fill="none" stroke="#66b23c" stroke-width="3.1" stroke-linejoin="round" stroke-linecap="round"/>
<path d="M84.8,368.7 L85.4,368.7 L86.1,367.8 L86.7,368.6 L87.3,367.1 L87.9,368.1 L88.5,368.0 L89.1,366.3 L89.6,366.9 L90.2,365.7 L90.8,366.7 L91.4,365.5 L92.0,365.1 L92.6,365.2 L93.2,365.3 L93.8,364.9 L94.3,364.7 L94.9,364.5 L95.5,362.8 L96.1,363.8 L96.7,361.7 L97.3,361.5 L97.9,360.7 L98.4,360.8 L99.0,358.9 L99.6,358.2 L100.2,359.0 L100.8,357.1 L101.4,358.0 L102.0,357.7 L102.6,356.9 L103.2,357.5 L103.7,357.0 L104.3,355.9 L104.9,356.8 L105.5,356.0 L106.1,356.5 L106.7,355.0 L107.3,356.3 L107.8,355.1 L108.4,355.6 L109.0,354.2 L109.6,355.5 L110.2,355.2 L110.8,353.8 L111.4,355.0 L112.0,354.5 L112.6,354.9 L113.1,354.2 L113.7,355.2 L114.3,354.9 L114.9,354.1 L115.5,355.4 L116.1,355.3 L116.7,354.7 L117.2,355.9 L117.8,354.9 L118.4,355.6 L119.0,355.1 L119.6,356.4 L120.2,356.1 L120.8,354.8 L121.4,355.8 L121.9,354.1 L122.5,355.1 L123.1,354.1 L123.7,354.9 L124.3,354.4 L124.9,353.0 L125.5,353.8 L126.2,352.6 L126.8,353.0 L127.4,351.6 L128.0,352.0 L128.6,352.7 L129.2,351.4 L129.9,352.8 L130.5,351.0 L131.1,351.3 L131.7,352.3 L132.4,351.0 L133.0,352.2 L133.6,351.6 L134.2,352.4 L134.7,351.4 L135.3,352.7 L135.9,352.8 L136.4,352.1 L137.0,352.4 L137.6,352.4 L138.2,353.4 L138.7,354.1 L139.3,353.2 L139.9,352.5 L140.4,353.4 L141.0,352.6 L141.6,353.1 L142.1,353.4 L142.7,351.5 L143.3,351.2 L143.8,352.7 L144.4,350.6 L145.0,351.4 L145.5,350.1 L146.1,350.7 L146.7,349.4 L147.2,350.2 L147.8,349.0 L148.3,350.1 L148.9,348.6 L149.5,349.9 L150.0,349.9 L150.6,348.7 L151.2,348.8 L151.8,350.1 L152.4,349.2 L153.0,349.6 L153.6,349.9 L154.3,350.9 L154.9,350.1 L155.5,349.9 L156.1,351.1 L156.7,351.6 L157.3,350.4 L157.9,351.1 L158.5,349.9 L159.0,350.9 L159.6,349.0 L160.2,348.6 L160.8,349.5 L161.3,348.0 L161.9,348.1 L162.5,349.4 L163.1,348.6 L163.8,348.9 L164.4,349.6 L165.0,350.8 L165.6,350.8 L166.3,350.2 L166.9,350.0 L167.5,351.7 L168.1,351.1 L168.7,349.5 L169.4,350.3 L170.0,350.4 L170.6,349.1 L171.2,349.8 L171.9,349.0 L172.5,349.8 L173.1,349.5 L173.7,348.1 L174.3,348.7 L174.9,347.6 L175.6,348.4 L176.2,348.6 L176.8,346.8 L177.4,347.9 L178.0,347.1 L178.6,348.4 L179.3,347.7 L179.9,348.7 L180.5,348.1 L181.2,348.4 L181.8,348.3 L182.4,348.3 L183.1,349.2 L183.7,347.9 L184.3,348.1 L184.9,347.7 L185.5,348.0 L186.1,348.5 L186.7,347.3 L187.3,347.3 L188.0,348.7 L188.6,347.4 L189.2,347.1 L189.8,347.1 L190.4,347.5 L191.0,346.6 L191.6,347.2 L192.2,345.9 L192.8,347.0 L193.4,345.2 L194.0,346.8 L194.6,345.6 L195.2,345.7 L195.9,345.6 L196.5,346.7 L197.1,345.5 L197.7,346.7 L198.3,345.3 L198.9,346.0 L199.5,344.8 L200.1,344.7 L200.7,346.0 L201.3,344.4 L201.9,345.6 L202.5,344.2 L203.1,345.1 L203.8,345.2 L204.4,345.0 L205.0,344.7 L205.6,343.6 L206.2,345.3 L206.8,344.1 L207.4,345.0 L208.0,344.0 L208.6,345.5 L209.2,344.0 L209.8,345.1 L210.4,343.6 L211.0,344.6 L211.7,343.5 L212.3,344.4 L212.9,342.8 L213.5,342.8 L214.1,344.1 L214.7,344.2 L215.3,344.1 L215.9,342.5 L216.5,342.7 L217.1,344.0 L217.8,342.2 L218.4,342.1 L219.0,343.6 L219.6,341.6 L220.2,342.5 L220.8,342.7 L221.4,342.9 L222.0,341.2 L222.7,343.1 L223.3,341.9 L223.9,342.4 L224.5,341.5 L225.1,342.4 L225.7,341.6 L226.3,340.9 L226.9,340.7 L227.6,342.5 L228.2,340.5 L228.8,340.6 L229.4,341.4 L230.0,341.4 L230.6,339.6 L231.2,341.1 L231.9,339.2 L232.5,340.2 L233.1,340.2 L233.7,340.6 L234.3,339.0 L234.9,340.2 L235.6,338.8 L236.2,340.5 L236.8,339.6 L237.4,339.0 L238.0,339.2 L238.6,340.2 L239.2,340.4 L239.8,338.9 L240.5,340.4 L241.1,338.8 L241.7,339.0 L242.3,338.9 L242.9,339.1 L243.5,340.1 L244.1,338.9 L244.7,339.9 L245.4,339.3 L246.0,339.1 L246.6,338.8 L247.2,340.2 L247.8,338.6 L248.4,340.4 L249.1,340.2 L249.7,340.0 L250.3,338.3 L250.9,339.7 L251.5,338.9 L252.1,340.1 L252.6,340.3 L253.2,339.7 L253.8,340.8 L254.4,340.1 L254.9,342.0 L255.5,342.2 L256.0,343.0 L256.6,342.4 L257.1,344.4 L257.7,342.6 L258.3,344.0 L258.9,342.2 L259.5,343.1 L260.1,342.0 L260.7,342.8 L261.3,341.2 L261.9,341.4 L262.5,340.6 L263.1,342.0 L263.7,341.4 L264.3,342.5 L264.9,341.7 L265.5,342.9 L266.1,343.4 L266.7,342.6 L267.3,343.7 L267.9,342.7 L268.5,342.3 L269.1,343.3 L269.7,343.1 L270.3,342.7 L270.9,341.5 L271.5,340.7 L272.1,341.4 L272.7,341.3 L273.3,339.8 L273.9,340.9 L274.5,339.0 L275.1,340.1 L275.6,339.0 L276.2,340.1 L276.8,338.5 L277.4,337.8 L278.0,339.7 L278.7,338.2 L279.4,339.6 L280.0,338.6 L280.6,338.9 L281.1,339.9 L281.7,338.8 L282.2,339.3 L282.8,338.2 L283.4,339.2 L283.9,337.4 L284.5,338.8 L285.1,338.9 L285.6,339.4 L286.2,339.9 L286.8,340.7 L287.3,340.2 L287.9,341.8 L288.4,341.2 L289.0,343.4 L289.6,341.6 L290.1,342.9 L290.7,340.9 L291.2,340.8 L291.8,340.6 L292.4,341.0 L292.9,339.5 L293.5,340.5 L294.1,340.0 L294.6,338.6 L295.2,339.8 L295.8,338.9 L296.3,337.5 L296.9,338.3 L297.4,338.0 L298.0,336.5 L298.6,338.1 L299.1,336.4 L299.7,336.4 L300.2,336.7 L300.8,335.9 L301.4,336.2 L301.9,335.1 L302.5,335.6 L303.1,333.5 L303.6,334.4 L304.2,332.5 L304.8,333.8 L305.3,331.6 L305.9,333.1 L306.4,332.4 L307.0,330.9 L307.6,332.3 L308.1,330.5 L308.7,331.5 L309.3,329.6 L309.9,330.3 L310.5,328.9 L311.0,328.0 L311.6,328.4 L312.2,327.0 L312.7,326.7 L313.3,328.1 L313.9,325.8 L314.4,325.6 L315.0,326.1 L315.5,325.7 L316.1,327.5 L316.7,325.2 L317.2,326.2 L317.8,326.0 L318.4,324.4 L318.9,325.6 L319.5,324.9 L320.0,323.9 L320.6,324.7 L321.2,323.4 L321.7,324.6 L322.3,322.6 L322.9,323.9 L323.4,323.7 L324.0,321.8 L324.5,322.8 L325.1,323.3 L325.7,323.1 L326.2,320.7 L326.8,322.5 L327.4,322.5 L327.9,322.3 L328.5,320.0 L329.0,321.4 L329.6,319.7 L330.2,319.3 L330.7,320.5 L331.3,318.9 L331.9,320.0 L332.4,318.7 L333.0,318.3 L333.5,317.9 L334.1,317.6 L334.7,318.3 L335.3,316.5 L335.9,317.0 L336.5,316.9 L337.1,314.6 L337.6,316.0 L338.2,314.7 L338.8,313.9 L339.4,314.9 L340.0,312.8 L340.6,314.6 L341.3,313.0 L341.9,312.1 L342.5,312.1 L343.1,309.4 L343.8,309.0 L344.4,309.1 L345.0,307.9 L345.6,307.2 L346.2,306.9 L346.8,308.8 L347.4,308.2 L348.0,305.9 L348.7,307.2 L349.3,305.8 L349.9,306.0 L350.5,308.2 L351.1,307.8 L351.7,306.1 L352.3,307.8 L352.9,306.6 L353.5,308.8 L354.1,308.3 L354.7,307.2 L355.3,309.3 L355.9,308.8 L356.5,309.1 L357.1,306.9 L357.7,308.1 L358.3,307.1 L358.9,307.6 L359.5,307.2 L360.1,307.2 L360.7,305.1 L361.3,306.0 L361.9,303.9 L362.5,305.1 L363.1,303.6 L363.7,306.0 L364.3,305.5 L364.9,307.0 L365.5,307.6 L366.1,308.1 L366.7,306.5 L367.3,308.5 L367.9,307.4 L368.5,309.6 L369.1,308.6 L369.7,310.4 L370.3,310.6 L370.9,308.6 L371.5,309.6 L372.1,308.9 L372.7,306.1 L373.3,307.4 L373.9,307.5 L374.5,306.3 L375.1,304.6 L375.7,305.9 L376.3,303.7 L376.9,305.1 L377.5,302.0 L378.1,304.0 L378.7,301.4 L379.3,302.8 L379.9,302.4 L380.5,300.1 L381.1,301.7 L381.8,300.6 L382.4,298.6 L383.0,300.6 L383.6,298.0 L384.2,298.1 L384.8,298.5 L385.4,298.1 L386.0,295.7 L386.6,296.9 L387.2,296.0 L387.8,293.0 L388.4,293.7 L389.0,292.8 L389.6,290.6 L390.2,291.1 L390.8,291.8 L391.4,291.0 L392.0,290.8 L392.6,288.2 L393.2,289.7 L393.8,287.7 L394.4,288.3 L395.0,285.8 L395.6,284.4 L396.2,285.7 L396.8,284.0 L397.5,284.2 L398.1,282.1 L398.8,280.6 L399.5,282.6 L400.2,283.8 L400.9,285.5 L401.5,284.0 L402.2,285.9 L402.8,289.4 L403.4,290.9 L404.0,291.1 L404.6,289.1 L405.2,287.0 L405.8,281.4 L406.4,282.0 L407.0,281.7 L407.6,279.0 L408.2,279.7 L408.8,276.0 L409.4,276.9 L410.0,274.1 L410.6,274.9 L411.2,274.0 L411.8,272.1 L412.4,272.8 L413.0,271.5 L413.6,269.1 L414.2,269.1 L414.8,268.6 L415.4,266.8 L416.0,263.7 L416.7,263.4 L417.3,259.6 L417.9,260.1 L418.5,257.0 L419.2,258.9 L419.8,255.5 L420.5,255.4 L421.1,257.3 L421.7,254.7 L422.3,256.3 L423.0,255.5 L423.6,252.9 L424.2,255.3 L424.8,255.4 L425.5,252.7 L426.1,254.1 L426.8,253.4 L427.4,250.5 L428.0,253.9 L428.7,252.6 L429.3,253.9 L430.0,258.6 L430.6,256.6 L431.2,259.3 L431.8,255.5 L432.5,258.2 L433.1,257.0 L433.7,256.0 L434.3,255.7 L435.0,253.3 L435.6,251.8 L436.3,254.3 L436.9,250.9 L437.5,254.1 L438.1,255.7 L438.8,254.2 L439.4,256.6 L440.0,256.1 L440.6,257.5 L441.3,253.9 L441.9,254.4 L442.6,254.0 L443.2,250.9 L443.8,251.4 L444.5,248.3 L445.1,246.6 L445.8,246.5 L446.4,243.3 L447.0,240.1 L447.6,240.9 L448.2,235.7 L448.8,235.9 L449.4,233.0 L450.1,234.5 L450.7,234.2 L451.3,231.0 L451.9,232.5 L452.6,230.1 L453.2,230.3 L453.9,230.5 L454.5,227.2 L455.1,229.8 L455.7,228.2 L456.4,232.2 L457.0,229.7 L457.6,233.2 L458.2,230.4 L458.9,233.5 L459.5,230.3 L460.2,232.0 L460.8,230.6 L461.4,229.5 L462.1,230.4 L462.7,228.8 L463.4,225.1 L464.0,223.6 L464.6,221.9 L465.1,220.0 L465.7,217.7 L466.3,220.2 L466.9,218.6 L467.5,224.1 L468.1,223.5 L468.7,228.2 L469.3,230.6 L469.9,232.1 L470.5,231.1 L471.1,235.5 L471.7,234.1 L472.2,237.0 L472.8,234.9 L473.4,235.4 L473.9,239.7 L474.5,238.7 L475.0,242.7 L475.5,242.9 L476.1,246.5 L476.6,246.1 L477.1,247.7 L477.7,249.2 L478.2,252.0 L478.7,245.7 L479.3,239.8 L479.8,238.3 L480.4,233.2 L481.0,234.0 L481.7,230.2 L482.3,226.5 L482.9,226.2 L483.4,222.2 L484.0,219.4 L484.5,213.2 L485.1,215.9 L485.8,214.2 L486.4,216.0 L487.1,214.0 L487.7,216.4 L488.4,208.3 L489.2,203.4 L489.8,201.6 L490.5,203.8 L491.1,200.8 L491.8,199.0 L492.4,201.6 L493.0,201.0 L493.7,202.4 L494.3,200.6 L495.0,204.9 L495.6,203.8 L496.2,204.6 L496.8,203.0 L497.5,201.7 L498.1,199.4 L498.7,200.4 L499.3,196.1 L499.9,198.6 L500.5,196.7 L501.1,193.1 L501.7,195.3 L502.3,190.1 L502.9,188.4 L503.5,185.6 L504.1,189.6 L504.8,189.1 L505.4,190.9 L506.1,191.2 L506.8,188.0 L507.4,192.8 L507.9,195.2 L508.5,196.3 L509.0,200.2 L509.5,198.1 L510.1,196.5 L510.6,195.3 L511.1,195.4 L511.7,190.9 L512.3,186.3 L512.9,187.0 L513.5,183.6 L514.1,175.9 L514.7,178.8 L515.3,185.4 L516.0,184.2 L516.6,187.4 L517.2,193.6 L517.9,194.0 L518.5,199.8 L519.2,201.5 L519.9,193.5 L520.6,192.1 L521.3,183.9 L521.9,186.9 L522.5,190.2 L523.1,192.6 L523.7,196.2 L524.3,197.0 L524.9,197.0 L525.5,201.0 L526.2,200.4 L526.8,206.3 L527.4,205.3 L528.0,204.2 L528.6,198.2 L529.2,195.1 L529.8,195.7 L530.4,189.8 L531.0,189.1 L531.6,184.6 L532.3,185.8 L532.9,179.1 L533.5,180.7 L534.1,178.9 L534.6,177.7 L535.2,174.2 L535.8,174.0 L536.4,176.0 L536.9,175.3 L537.5,170.9 L538.1,173.2 L538.7,172.5 L539.4,171.6 L540.0,167.1 L540.6,170.7 L541.3,171.6 L541.9,175.7 L542.6,182.8 L543.2,181.9 L543.8,186.2 L544.5,185.5 L545.1,190.7 L545.7,189.3 L546.4,183.7 L547.0,181.6 L547.7,174.1 L548.2,171.0 L548.8,163.6 L549.3,157.2" fill="none" stroke="#1b3563" stroke-width="3.1" stroke-linejoin="round" stroke-linecap="round"/>
<path d="M84.8,368.7 L85.4,367.6 L86.0,366.9 L86.6,366.8 L87.2,365.8 L87.8,364.5 L88.4,364.4 L89.0,362.6 L89.6,363.3 L90.2,361.7 L90.8,361.5 L91.4,361.2 L92.0,360.6 L92.6,361.1 L93.2,360.4 L93.8,360.3 L94.3,361.2 L94.9,360.4 L95.5,361.1 L96.1,360.2 L96.7,362.2 L97.3,362.0 L97.8,363.2 L98.4,364.1 L99.0,363.9 L99.6,365.3 L100.2,364.6 L100.8,365.1 L101.3,365.4 L101.9,366.5 L102.5,366.3 L103.1,367.7 L103.7,366.2 L104.3,367.0 L104.9,366.3 L105.4,364.8 L106.0,366.0 L106.6,364.4 L107.2,365.4 L107.8,364.2 L108.4,364.5 L109.0,363.8 L109.6,362.3 L110.2,362.4 L110.7,361.8 L111.3,360.7 L111.9,361.1 L112.5,360.4 L113.1,359.2 L113.7,360.1 L114.3,358.5 L114.8,359.3 L115.4,358.2 L116.0,359.0 L116.6,359.0 L117.2,357.7 L117.8,357.3 L118.4,357.4 L119.0,356.1 L119.6,356.9 L120.1,356.8 L120.7,355.1 L121.3,355.0 L121.9,355.8 L122.5,354.7 L123.1,355.3 L123.7,354.2 L124.2,355.1 L124.8,353.6 L125.4,354.6 L126.0,354.8 L126.6,354.5 L127.3,350.8 L128.0,349.5 L128.6,348.7 L129.2,348.4 L129.9,349.4 L130.5,347.9 L131.1,347.8 L131.7,348.0 L132.4,349.1 L133.0,347.8 L133.6,348.4 L134.2,348.5 L134.7,348.3 L135.3,347.2 L135.9,346.8 L136.4,348.3 L137.0,346.6 L137.6,346.7 L138.2,347.6 L138.7,347.9 L139.3,346.8 L139.9,348.0 L140.5,346.3 L141.2,347.8 L141.8,346.6 L142.4,347.3 L143.0,347.2 L143.7,346.2 L144.3,347.6 L144.9,345.9 L145.5,346.9 L146.2,345.8 L146.8,347.1 L147.4,346.7 L148.1,345.4 L148.7,345.7 L149.3,346.5 L150.0,346.7 L150.6,345.4 L151.2,345.2 L151.8,345.3 L152.5,345.1 L153.1,346.4 L153.7,346.3 L154.3,345.8 L155.0,346.2 L155.6,344.5 L156.2,345.7 L156.8,346.1 L157.3,344.4 L157.9,345.6 L158.5,345.2 L159.1,346.0 L159.6,345.1 L160.2,346.6 L160.8,346.4 L161.3,345.4 L161.9,346.3 L162.5,346.8 L163.1,346.7 L163.8,345.6 L164.4,346.2 L165.0,344.9 L165.6,345.0 L166.3,346.4 L166.9,345.7 L167.5,346.7 L168.1,345.1 L168.8,346.2 L169.4,344.7 L170.0,346.1 L170.6,344.8 L171.2,345.5 L171.8,344.6 L172.4,346.2 L173.0,346.1 L173.6,345.6 L174.2,344.4 L174.8,343.6 L175.4,344.5 L176.0,343.6 L176.6,344.1 L177.2,344.2 L177.8,344.2 L178.4,343.4 L179.0,343.1 L179.6,343.6 L180.2,344.6 L180.8,344.9 L181.4,343.3 L182.0,343.1 L182.6,343.3 L183.2,344.5 L183.8,342.8 L184.4,344.1 L185.0,344.3 L185.5,343.6 L186.1,343.4 L186.7,342.1 L187.3,343.4 L187.9,342.5 L188.5,342.0 L189.1,343.7 L189.7,342.0 L190.3,343.1 L190.9,341.8 L191.5,342.2 L192.1,341.8 L192.7,342.2 L193.3,343.4 L193.9,343.5 L194.5,341.8 L195.1,343.3 L195.7,342.9 L196.3,342.7 L196.9,341.7 L197.5,343.2 L198.1,341.8 L198.7,342.7 L199.3,341.7 L199.9,342.6 L200.5,341.3 L201.1,340.6 L201.7,341.0 L202.3,342.0 L202.9,340.6 L203.5,341.5 L204.1,340.1 L204.7,340.2 L205.3,341.4 L205.8,340.2 L206.4,341.7 L207.0,340.2 L207.6,341.1 L208.2,340.0 L208.8,341.6 L209.4,340.4 L210.0,341.2 L210.6,340.8 L211.2,341.2 L211.8,340.0 L212.4,341.1 L213.0,339.6 L213.6,340.8 L214.2,339.6 L214.8,340.5 L215.4,340.8 L216.0,339.2 L216.6,340.3 L217.2,340.0 L217.8,338.7 L218.4,340.7 L219.0,339.1 L219.6,339.5 L220.2,341.0 L220.8,339.6 L221.4,340.9 L222.0,339.1 L222.6,340.4 L223.3,339.9 L223.9,340.4 L224.5,339.5 L225.1,341.2 L225.7,339.2 L226.3,340.9 L226.9,339.7 L227.5,339.9 L228.2,340.5 L228.8,340.6 L229.4,339.6 L230.0,341.0 L230.6,339.1 L231.2,340.3 L231.9,338.9 L232.5,338.3 L233.1,338.2 L233.7,338.5 L234.3,339.5 L234.9,337.6 L235.6,338.6 L236.2,338.6 L236.8,337.2 L237.4,337.9 L238.0,338.5 L238.6,337.7 L239.2,337.1 L239.8,336.4 L240.5,336.3 L241.1,337.3 L241.7,336.0 L242.3,336.1 L242.9,337.5 L243.5,335.9 L244.1,337.3 L244.7,335.3 L245.4,335.4 L246.0,335.2 L246.6,335.0 L247.2,336.9 L247.8,335.5 L248.4,337.0 L249.1,335.4 L249.7,337.0 L250.3,335.2 L250.9,336.8 L251.5,335.3 L252.2,335.0 L252.8,335.3 L253.4,334.7 L254.0,335.9 L254.6,334.8 L255.2,335.3 L255.9,334.3 L256.5,333.4 L257.1,334.5 L257.7,335.3 L258.2,334.1 L258.8,335.3 L259.4,334.6 L260.0,334.4 L260.5,335.0 L261.1,336.1 L261.7,335.3 L262.3,336.7 L262.9,337.1 L263.4,336.0 L264.0,336.5 L264.6,338.4 L265.2,338.1 L265.8,337.3 L266.4,338.0 L267.0,337.0 L267.6,338.1 L268.2,337.2 L268.8,338.0 L269.4,336.9 L270.0,337.8 L270.6,336.9 L271.2,336.0 L271.8,336.8 L272.5,335.4 L273.1,336.5 L273.7,336.7 L274.3,334.7 L274.9,335.3 L275.5,333.8 L276.2,335.0 L276.8,333.3 L277.4,333.9 L278.0,334.4 L278.7,333.5 L279.4,333.4 L280.0,332.4 L280.6,331.5 L281.1,331.4 L281.7,331.0 L282.2,331.7 L282.8,329.8 L283.4,330.8 L283.9,329.0 L284.5,329.6 L285.1,327.9 L285.6,327.6 L286.2,329.2 L286.8,328.0 L287.3,328.6 L287.9,327.2 L288.4,328.5 L289.0,327.3 L289.6,328.2 L290.1,327.2 L290.7,328.1 L291.2,328.2 L291.8,326.9 L292.4,328.6 L292.9,326.8 L293.5,328.3 L294.1,328.1 L294.6,326.1 L295.2,328.0 L295.8,327.6 L296.3,325.8 L296.9,326.8 L297.4,326.6 L298.0,326.7 L298.6,325.2 L299.1,325.0 L299.7,325.3 L300.2,327.2 L300.8,325.3 L301.4,327.1 L301.9,325.9 L302.5,327.2 L303.1,325.4 L303.6,325.8 L304.2,324.2 L304.8,324.8 L305.3,323.2 L305.9,323.7 L306.4,322.9 L307.0,321.3 L307.6,321.0 L308.1,321.2 L308.7,321.7 L309.3,320.6 L309.9,322.3 L310.5,320.2 L311.0,320.0 L311.6,321.8 L312.2,320.7 L312.7,320.4 L313.3,321.4 L313.9,321.7 L314.4,320.6 L315.0,320.4 L315.5,322.1 L316.1,320.5 L316.7,322.5 L317.2,321.2 L317.8,321.8 L318.4,323.5 L318.9,323.9 L319.5,322.3 L320.1,324.9 L320.6,323.5 L321.1,325.6 L321.7,325.1 L322.2,326.8 L322.8,327.8 L323.4,326.7 L323.9,325.0 L324.5,325.4 L325.1,325.2 L325.6,322.7 L326.2,321.7 L326.8,322.6 L327.3,322.3 L327.9,321.0 L328.5,321.7 L329.0,319.7 L329.6,319.2" fill="none" stroke="#e8741f" stroke-width="3.1" stroke-linejoin="round" stroke-linecap="round"/>
<circle cx="89.8" cy="79.4" r="4.3" fill="#1f98d4"/><circle cx="89.8" cy="98.3" r="4.3" fill="#1b3563"/><circle cx="226.4" cy="79.4" r="4.3" fill="#f1c538"/><circle cx="226.4" cy="98.3" r="4.3" fill="#e8741f"/><circle cx="360.8" cy="79.4" r="4.3" fill="#a3a3a5"/><circle cx="360.8" cy="98.3" r="4.3" fill="#66b23c"/>
<text x="86.00" y="34.8" font-family="Liberation Sans, sans-serif" font-size="12.6" font-weight="bold" fill="#141414" stroke="#141414" stroke-width="0.3" textLength="20.00" lengthAdjust="spacingAndGlyphs">THE</text><text x="110.00" y="34.8" font-family="Liberation Sans, sans-serif" font-size="12.6" font-weight="bold" fill="#141414" stroke="#141414" stroke-width="0.3" textLength="53.00" lengthAdjust="spacingAndGlyphs">CURRENT</text><text x="166.00" y="34.8" font-family="Liberation Sans, sans-serif" font-size="12.6" font-weight="bold" fill="#141414" stroke="#141414" stroke-width="0.3" textLength="28.00" lengthAdjust="spacingAndGlyphs">BULL</text><text x="198.00" y="34.8" font-family="Liberation Sans, sans-serif" font-size="12.6" font-weight="bold" fill="#141414" stroke="#141414" stroke-width="0.3" textLength="47.00" lengthAdjust="spacingAndGlyphs">MARKET</text><text x="250.00" y="34.8" font-family="Liberation Sans, sans-serif" font-size="12.6" font-weight="bold" fill="#141414" stroke="#141414" stroke-width="0.3" textLength="25.00" lengthAdjust="spacingAndGlyphs">MAY</text><text x="279.00" y="34.8" font-family="Liberation Sans, sans-serif" font-size="12.6" font-weight="bold" fill="#141414" stroke="#141414" stroke-width="0.3" textLength="32.00" lengthAdjust="spacingAndGlyphs">SOON</text><text x="315.00" y="34.8" font-family="Liberation Sans, sans-serif" font-size="12.6" font-weight="bold" fill="#141414" stroke="#141414" stroke-width="0.3" textLength="14.00" lengthAdjust="spacingAndGlyphs">BE</text><text x="333.00" y="34.8" font-family="Liberation Sans, sans-serif" font-size="12.6" font-weight="bold" fill="#141414" stroke="#141414" stroke-width="0.3" textLength="20.00" lengthAdjust="spacingAndGlyphs">THE</text><text x="357.00" y="34.8" font-family="Liberation Sans, sans-serif" font-size="12.6" font-weight="bold" fill="#141414" stroke="#141414" stroke-width="0.3" textLength="52.00" lengthAdjust="spacingAndGlyphs">LONGEST</text><text x="412.00" y="34.8" font-family="Liberation Sans, sans-serif" font-size="12.6" font-weight="bold" fill="#141414" stroke="#141414" stroke-width="0.3" textLength="29.00" lengthAdjust="spacingAndGlyphs">EVER</text><text transform="translate(84.2,63) scale(0.84,1)" x="0" y="0" font-family="Liberation Sans, sans-serif" font-size="12.8" font-weight="normal" fill="#737373" textLength="216.19" lengthAdjust="spacing" text-anchor="start" stroke="#737373" stroke-width="0.5" word-spacing="0">Longest Bull Markets Since WWII</text><text transform="translate(102.5,84.2) scale(0.84,1)" x="0" y="0" font-family="Liberation Sans, sans-serif" font-size="12.6" font-weight="normal" fill="#737373" textLength="101.79" lengthAdjust="spacing" text-anchor="start" stroke="#737373" stroke-width="0.5" word-spacing="0">Jun ’49–Aug ’56</text><text transform="translate(102.5,103.4) scale(0.84,1)" x="0" y="0" font-family="Liberation Sans, sans-serif" font-size="12.6" font-weight="normal" fill="#737373" textLength="101.79" lengthAdjust="spacing" text-anchor="start" stroke="#737373" stroke-width="0.5" word-spacing="0">Oct ’90–Mar ’00</text><text transform="translate(239.5,84.2) scale(0.84,1)" x="0" y="0" font-family="Liberation Sans, sans-serif" font-size="12.6" font-weight="normal" fill="#737373" textLength="100.36" lengthAdjust="spacing" text-anchor="start" stroke="#737373" stroke-width="0.5" word-spacing="0">Oct ’74–Nov ’80</text><text transform="translate(239.5,103.4) scale(0.84,1)" x="0" y="0" font-family="Liberation Sans, sans-serif" font-size="12.6" font-weight="normal" fill="#737373" textLength="96.43" lengthAdjust="spacing" text-anchor="start" stroke="#737373" stroke-width="0.5" word-spacing="0">Oct ’02–Oct ’07</text><text transform="translate(373.5,84.2) scale(0.84,1)" x="0" y="0" font-family="Liberation Sans, sans-serif" font-size="12.6" font-weight="normal" fill="#737373" textLength="103.81" lengthAdjust="spacing" text-anchor="start" stroke="#737373" stroke-width="0.5" word-spacing="0">Aug ’82–Aug ’87</text><text transform="translate(373.5,103.4) scale(0.84,1)" x="0" y="0" font-family="Liberation Sans, sans-serif" font-size="12.6" font-weight="normal" fill="#737373" textLength="105.36" lengthAdjust="spacing" text-anchor="start" stroke="#737373" stroke-width="0.5" word-spacing="0">Mar ’09–Current</text><text x="47.5" y="121.3" font-family="Liberation Sans, sans-serif" font-size="12.6" fill="#767676" stroke="#767676" stroke-width="0.55" textLength="29" lengthAdjust="spacingAndGlyphs">500%</text><text x="48.3" y="171.6" font-family="Liberation Sans, sans-serif" font-size="12.6" fill="#767676" stroke="#767676" stroke-width="0.55" textLength="19" lengthAdjust="spacingAndGlyphs">400</text><text x="48.3" y="222.2" font-family="Liberation Sans, sans-serif" font-size="12.6" fill="#767676" stroke="#767676" stroke-width="0.55" textLength="19" lengthAdjust="spacingAndGlyphs">300</text><text x="48.3" y="272.8" font-family="Liberation Sans, sans-serif" font-size="12.6" fill="#767676" stroke="#767676" stroke-width="0.55" textLength="19" lengthAdjust="spacingAndGlyphs">200</text><text x="48.3" y="323.6" font-family="Liberation Sans, sans-serif" font-size="12.6" fill="#767676" stroke="#767676" stroke-width="0.55" textLength="19" lengthAdjust="spacingAndGlyphs">100</text><text x="60.3" y="374.40000000000003" font-family="Liberation Sans, sans-serif" font-size="12.6" fill="#767676" stroke="#767676" stroke-width="0.55" textLength="7" lengthAdjust="spacingAndGlyphs">0</text><text x="83.0" y="392.6" font-family="Liberation Sans, sans-serif" font-size="12.6" fill="#767676" stroke="#767676" stroke-width="0.5" textLength="6.6" lengthAdjust="spacingAndGlyphs">0</text><text x="131.6" y="392.6" font-family="Liberation Sans, sans-serif" font-size="12.6" fill="#767676" stroke="#767676" stroke-width="0.5" textLength="6.6" lengthAdjust="spacingAndGlyphs">1</text><text x="180.3" y="392.6" font-family="Liberation Sans, sans-serif" font-size="12.6" fill="#767676" stroke="#767676" stroke-width="0.5" textLength="6.6" lengthAdjust="spacingAndGlyphs">2</text><text x="228.9" y="392.6" font-family="Liberation Sans, sans-serif" font-size="12.6" fill="#767676" stroke="#767676" stroke-width="0.5" textLength="6.6" lengthAdjust="spacingAndGlyphs">3</text><text x="277.6" y="392.6" font-family="Liberation Sans, sans-serif" font-size="12.6" fill="#767676" stroke="#767676" stroke-width="0.5" textLength="6.6" lengthAdjust="spacingAndGlyphs">4</text><text x="326.2" y="392.6" font-family="Liberation Sans, sans-serif" font-size="12.6" fill="#767676" stroke="#767676" stroke-width="0.5" textLength="6.6" lengthAdjust="spacingAndGlyphs">5</text><text x="374.8" y="392.6" font-family="Liberation Sans, sans-serif" font-size="12.6" fill="#767676" stroke="#767676" stroke-width="0.5" textLength="6.6" lengthAdjust="spacingAndGlyphs">6</text><text x="423.5" y="392.6" font-family="Liberation Sans, sans-serif" font-size="12.6" fill="#767676" stroke="#767676" stroke-width="0.5" textLength="6.6" lengthAdjust="spacingAndGlyphs">7</text><text x="472.1" y="392.6" font-family="Liberation Sans, sans-serif" font-size="12.6" fill="#767676" stroke="#767676" stroke-width="0.5" textLength="6.6" lengthAdjust="spacingAndGlyphs">8</text><text x="520.8" y="392.6" font-family="Liberation Sans, sans-serif" font-size="12.6" fill="#767676" stroke="#767676" stroke-width="0.5" textLength="6.6" lengthAdjust="spacingAndGlyphs">9</text><text x="568.0" y="392.6" font-family="Liberation Sans, sans-serif" font-size="12.6" fill="#767676" stroke="#767676" stroke-width="0.5" textLength="12.5" lengthAdjust="spacingAndGlyphs">10</text><text transform="translate(311.5,408.5) scale(0.84,1)" x="0" y="0" font-family="Liberation Sans, sans-serif" font-size="12.8" font-weight="normal" fill="#767676" textLength="34.52" lengthAdjust="spacing" text-anchor="start" stroke="#767676" stroke-width="0.5" word-spacing="0">Years</text><text transform="translate(84.8,426.8) scale(0.8,1)" x="0" y="0" font-family="Liberation Sans, sans-serif" font-size="12.6" font-weight="normal" fill="#858585" textLength="219.38" lengthAdjust="spacing" text-anchor="start" stroke="#858585" stroke-width="0.25" word-spacing="0">Source: LPL Research, FactSet, CFRA</text><text transform="translate(268.6,426.8) scale(0.8,1)" x="0" y="0" font-family="Liberation Sans, sans-serif" font-size="12.6" font-weight="normal" fill="#858585" textLength="56.88" lengthAdjust="spacing" text-anchor="start" stroke="#858585" stroke-width="0.25" word-spacing="0">08/08/18</text>
</svg>
</body></html>
